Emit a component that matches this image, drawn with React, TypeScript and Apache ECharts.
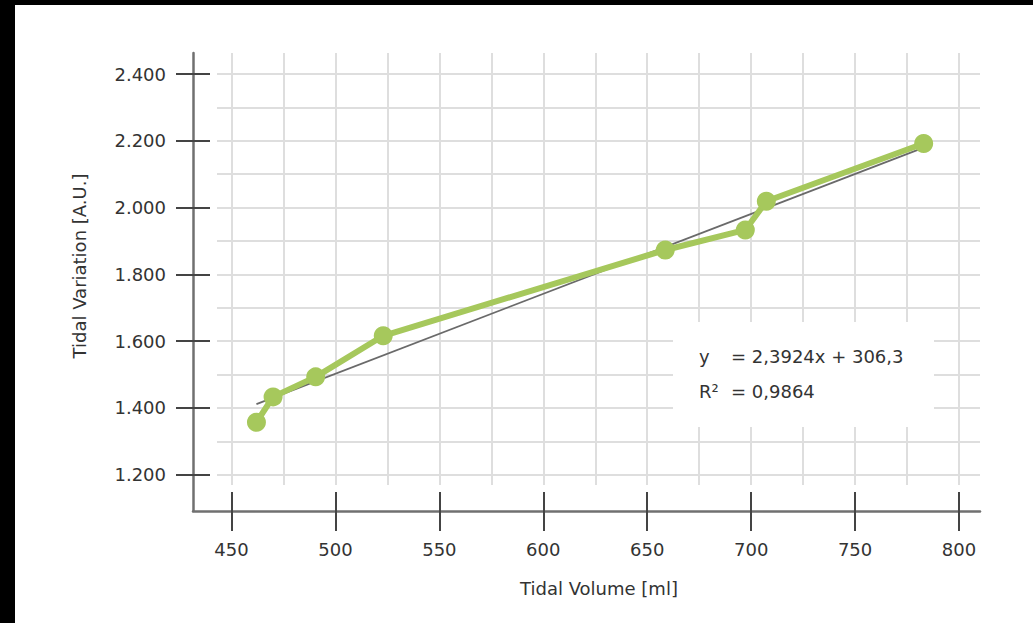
import React, { useEffect, useRef } from 'react';
import * as echarts from 'echarts';

// ---- data ----
const xValues = [462, 470, 490.5, 523, 658.7, 697.2, 707.3, 783];
const yValues = [1357, 1433, 1493, 1616, 1873, 1933, 2019, 2192];

const xTicks = [450, 500, 550, 600, 650, 700, 750, 800];
const xTickLabels = ['450', '500', '550', '600', '650', '700', '750', '800'];
const yTicks = [1200, 1400, 1600, 1800, 2000, 2200, 2400];
const yTickLabels = ['1.200', '1.400', '1.600', '1.800', '2.000', '2.200', '2.400'];

const trendSlope = 2.3924;
const trendIntercept = 306.3;
const trendX = [462, 783];

const xTitle = 'Tidal Volume [ml]';
const yTitle = 'Tidal Variation [A.U.]';
const eqLine1 = ['y', '= 2,3924x + 306,3'];
const eqLine2 = ['R\u00B2', '= 0,9864'];

const FONT = 'DejaVu Sans';
const TEXT = '#333333';
const GREEN = '#a6c85c';
const GRIDLINE = '#dedede';

export default function App() {
  const ref = useRef<HTMLDivElement>(null);

  useEffect(() => {
    if (!ref.current) return;
    const chart = echarts.init(ref.current, undefined, { renderer: 'svg' });

    const labelFor = (ticks: number[], labels: string[]) => (v: number) => {
      const i = ticks.indexOf(v);
      return i >= 0 ? labels[i] : '';
    };

    const hiddenParts = {
      axisLine: { show: false },
      axisTick: { show: false },
      axisLabel: { show: false },
      splitLine: { show: false },
    };

    const option: any = {
      animation: false,
      backgroundColor: '#ffffff',
      grid: [
        { left: 216.5, right: 74, top: 69, bottom: 148.3 },
        { left: 202, right: 53, top: 69, bottom: 148.3 },
        { left: 216.5, right: 74, top: 48, bottom: 138 },
        { left: 178, right: 53, top: 48, bottom: 112 },
      ],
      xAxis: [
        {
          gridIndex: 0,
          type: 'value',
          min: 450,
          max: 800,
          interval: 50,
          offset: 17.3,
          axisLine: { show: false },
          axisTick: { show: true, length: 39, lineStyle: { color: '#444', width: 2 } },
          axisLabel: {
            margin: 48,
            fontSize: 18,
            fontFamily: FONT,
            color: TEXT,
            formatter: labelFor(xTicks, xTickLabels),
          },
          splitLine: { show: false },
        },
        { gridIndex: 1, type: 'value', min: 0, max: 1, ...hiddenParts },
        {
          gridIndex: 2,
          type: 'value',
          min: 450,
          max: 800,
          interval: 25,
          axisLine: { show: false },
          axisTick: { show: false },
          axisLabel: { show: false },
          splitLine: { show: true, lineStyle: { color: GRIDLINE, width: 2 } },
        },
        {
          gridIndex: 3,
          type: 'value',
          min: 0,
          max: 1,
          axisLine: { show: true, onZero: false, lineStyle: { color: '#707070', width: 2.5 } },
          axisTick: { show: false },
          axisLabel: { show: false },
          splitLine: { show: false },
        },
      ],
      yAxis: [
        {
          gridIndex: 0,
          type: 'value',
          min: 1200,
          max: 2400,
          interval: 200,
          offset: 21.5,
          axisLine: { show: false },
          axisTick: { show: true, length: 34, lineStyle: { color: '#444', width: 2 } },
          axisLabel: {
            margin: 44,
            fontSize: 18,
            fontFamily: FONT,
            color: TEXT,
            formatter: labelFor(yTicks, yTickLabels),
          },
          splitLine: { show: false },
        },
        {
          gridIndex: 1,
          type: 'value',
          min: 1200,
          max: 2400,
          interval: 100,
          axisLine: { show: false },
          axisTick: { show: false },
          axisLabel: { show: false },
          splitLine: { show: true, lineStyle: { color: GRIDLINE, width: 2 } },
        },
        { gridIndex: 2, type: 'value', min: 0, max: 1, ...hiddenParts },
        {
          gridIndex: 3,
          type: 'value',
          min: 0,
          max: 1,
          axisLine: { show: true, onZero: false, lineStyle: { color: '#707070', width: 2.5 } },
          axisTick: { show: false },
          axisLabel: { show: false },
          splitLine: { show: false },
        },
      ],
      series: [
        {
          name: 'trend',
          type: 'line',
          xAxisIndex: 0,
          yAxisIndex: 0,
          data: trendX.map((x) => [x, trendSlope * x + trendIntercept]),
          symbol: 'none',
          lineStyle: { color: '#6a6a6a', width: 1.8 },
          z: 1,
        },
        {
          name: 'data',
          type: 'line',
          xAxisIndex: 0,
          yAxisIndex: 0,
          data: xValues.map((x, i) => [x, yValues[i]]),
          symbol: 'circle',
          symbolSize: 19,
          itemStyle: { color: GREEN },
          lineStyle: { color: GREEN, width: 6 },
          z: 2,
        },
      ],
      graphic: [
        {
          type: 'rect',
          z: 10,
          shape: { x: 658, y: 317, width: 261, height: 105 },
          style: { fill: '#ffffff' },
        },
        {
          type: 'text',
          z: 11,
          x: 684,
          y: 351.7,
          style: { text: eqLine1[0], font: `18px "${FONT}"`, fill: TEXT, verticalAlign: 'middle' },
        },
        {
          type: 'text',
          z: 11,
          x: 716,
          y: 351.7,
          style: { text: eqLine1[1], font: `18px "${FONT}"`, fill: TEXT, verticalAlign: 'middle' },
        },
        {
          type: 'text',
          z: 11,
          x: 684,
          y: 386.7,
          style: { text: eqLine2[0], font: `18px "${FONT}"`, fill: TEXT, verticalAlign: 'middle' },
        },
        {
          type: 'text',
          z: 11,
          x: 716,
          y: 386.7,
          style: { text: eqLine2[1], font: `18px "${FONT}"`, fill: TEXT, verticalAlign: 'middle' },
        },
        {
          type: 'text',
          z: 11,
          x: 584,
          y: 583,
          style: { text: xTitle, font: `18px "${FONT}"`, fill: TEXT, align: 'center', verticalAlign: 'middle' },
        },
        {
          type: 'text',
          z: 11,
          x: 64,
          y: 261,
          rotation: Math.PI / 2,
          style: { text: yTitle, font: `18px "${FONT}"`, fill: TEXT, align: 'center', verticalAlign: 'middle' },
        },
      ],
    };

    chart.setOption(option);
    return () => chart.dispose();
  }, []);

  return (
    <div style={{ position: 'fixed', left: 0, top: 0, width: 1033, height: 623, background: '#000' }}>
      <div
        ref={ref}
        style={{ position: 'absolute', left: 15, top: 5, width: 1018, height: 618, background: '#fff' }}
      />
    </div>
  );
}
